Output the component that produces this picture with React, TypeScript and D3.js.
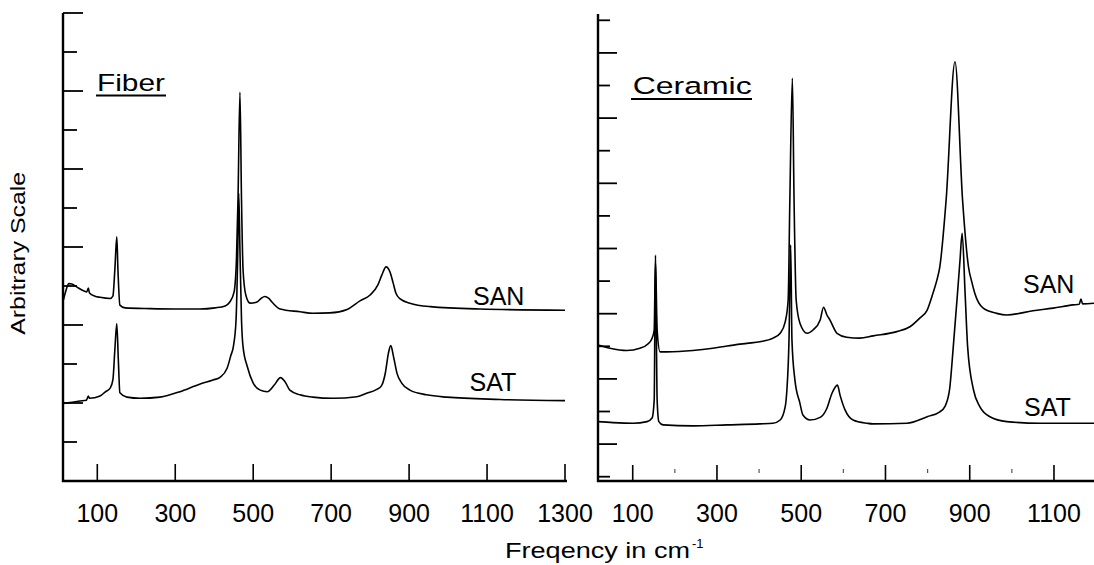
import React from 'react';
import * as d3 from 'd3';

// ---------- data ----------
const fiberTicks = [100, 300, 500, 700, 900, 1100, 1300];
const ceramicTicks = [100, 300, 500, 700, 900, 1100];
const ceramicMinorTicks = [200, 400, 600, 800, 1000];
const fiberYTicks = d3.range(0, 13);
const ceramicYTicks = d3.range(0, 15);

const fiberSAN: [number, number][] = [
  [13, 4.64], [20, 4.9], [27, 5.06], [35, 5.05], [48, 4.97], [66, 4.87], [73, 4.85], [77, 4.95], [80, 4.82],
  [94, 4.74], [107, 4.71], [133, 4.68], [140, 4.74], [145, 5.41], [150, 6.26], [153, 5.41], [158, 4.51],
  [171, 4.44], [235, 4.42], [300, 4.41], [363, 4.41], [402, 4.44], [428, 4.49], [440, 4.59], [451, 4.85],
  [457, 5.67], [461, 7.21], [466, 9.97], [470, 7.21], [474, 5.41], [481, 4.77], [492, 4.56], [510, 4.59],
  [520, 4.68], [530, 4.73], [540, 4.68], [548, 4.59], [569, 4.41], [620, 4.34], [653, 4.3], [696, 4.31],
  [741, 4.4], [774, 4.62], [800, 4.77], [820, 5.03], [830, 5.28], [841, 5.49], [851, 5.36], [859, 5.08],
  [866, 4.82], [877, 4.67], [902, 4.56], [954, 4.47], [1082, 4.41], [1300, 4.38],
];

const fiberSAT: [number, number][] = [
  [12, 1.99], [30, 2.01], [56, 2.05], [72, 2.07], [77, 2.18], [80, 2.12], [107, 2.18], [120, 2.28],
  [133, 2.38], [140, 2.59], [145, 3.36], [150, 4.03], [154, 3.1], [158, 2.26], [176, 2.15], [210, 2.12],
  [261, 2.15], [312, 2.29], [346, 2.42], [364, 2.49], [397, 2.59], [415, 2.66], [433, 2.89], [443, 3.23],
  [449, 3.44], [456, 4.13], [460, 5.67], [463, 7.38], [466, 5.92], [470, 4.13], [474, 3.44], [485, 2.93],
  [500, 2.51], [518, 2.33], [536, 2.29], [554, 2.46], [570, 2.65], [582, 2.54], [594, 2.33], [620, 2.21],
  [653, 2.15], [705, 2.12], [766, 2.16], [791, 2.25], [817, 2.35], [829, 2.44], [839, 2.77], [847, 3.28],
  [853, 3.47], [860, 3.19], [869, 2.76], [881, 2.51], [902, 2.33], [945, 2.21], [997, 2.15], [1133, 2.09],
  [1300, 2.06],
];

const ceramicSAN: [number, number][] = [
  [17.6, 4.04], [46, 3.94], [86, 3.87], [117, 3.94], [136, 4.07], [146, 4.25], [151, 4.5], [154, 6.65],
  [158, 4.5], [165, 3.83], [181, 3.83], [243, 3.87], [290, 3.94], [324, 4.01], [371, 4.09], [402, 4.14],
  [433, 4.25], [450, 4.4], [462, 4.75], [469, 5.42], [473, 8.48], [479, 12.22], [483, 8.48], [488, 5.42],
  [497, 4.71], [514, 4.4], [528, 4.5], [545, 4.81], [553, 5.2], [561, 4.96], [568, 4.81], [585, 4.4],
  [608, 4.28], [639, 4.25], [671, 4.32], [727, 4.45], [758, 4.6], [782, 4.87], [799, 5.11], [813, 5.64],
  [822, 6.03], [829, 6.44], [844, 8.49], [865, 12.73], [883, 8.49], [897, 6.44], [905, 5.97], [912, 5.63],
  [932, 5.17], [964, 5.01], [988, 4.96], [1050, 5.09], [1098, 5.17], [1145, 5.27], [1160, 5.29],
  [1164, 5.45], [1168, 5.3], [1195, 5.32],
];

const ceramicSAT: [number, number][] = [
  [17.6, 1.69], [53, 1.66], [101, 1.64], [134, 1.69], [146, 1.8], [151, 2.35], [154, 6.8], [158, 2.35],
  [162, 1.69], [172, 1.59], [243, 1.56], [324, 1.59], [402, 1.62], [433, 1.64], [450, 1.74], [462, 2.15],
  [466, 2.66], [471, 4.19], [475, 7.11], [478, 4.19], [485, 2.97], [497, 2.25], [504, 1.89], [521, 1.74],
  [545, 1.82], [561, 2.1], [573, 2.56], [586, 2.81], [592, 2.51], [604, 2.05], [623, 1.74], [656, 1.64],
  [670, 1.62], [751, 1.64], [799, 1.84], [829, 1.99], [841, 2.15], [852, 2.66], [861, 3.99], [871, 5.63],
  [877, 6.65], [882, 7.47], [889, 5.63], [895, 3.99], [909, 2.66], [924, 2.15], [948, 1.84], [988, 1.69],
  [1067, 1.64], [1195, 1.64],
];

// ---------- layout ----------
const W = 1094;
const H = 565;
const FONT = '"Liberation Sans", Arial, Helvetica, sans-serif';

const xL = d3.scaleLinear().domain([12, 1300]).range([63, 565]);
const yL = d3.scaleLinear().domain([0, 12]).range([481, 13]);
const xR = d3.scaleLinear().domain([17.6, 1195]).range([598, 1094]);
const yR = d3.scaleLinear().domain([0, 14]).range([476.7, 20.3]);

function lineFor(x: d3.ScaleLinear<number, number>, y: d3.ScaleLinear<number, number>) {
  return d3
    .line<[number, number]>()
    .x((d) => x(d[0]))
    .y((d) => y(d[1]))
    .curve(d3.curveMonotoneX);
}

export default function App() {
  const lineL = lineFor(xL, yL);
  const lineR = lineFor(xR, yR);
  const axisY = 481;
  return (
    <svg
      width={W}
      height={H}
      style={{ position: 'absolute', left: 0, top: 0, background: '#fff' }}
      fontFamily={FONT}
    >
      <rect x={0} y={0} width={W} height={H} fill="#fff" />

      {/* ---- Left panel (Fiber) axes ---- */}
      <line x1={63} x2={63} y1={13} y2={axisY + 1} stroke="#000" strokeWidth={2.4} />
      <line x1={62} x2={567} y1={axisY} y2={axisY} stroke="#000" strokeWidth={2.4} />
      {fiberYTicks.map((v) => (
        <line key={'ly' + v} x1={63} x2={63 + (v % 2 === 0 ? 20 : 14)} y1={yL(v)} y2={yL(v)} stroke="#000" strokeWidth={1.8} />
      ))}
      {fiberTicks.map((t) => (
        <g key={'lx' + t}>
          <line x1={xL(t)} x2={xL(t)} y1={axisY} y2={axisY - 17} stroke="#000" strokeWidth={1.6} />
          <text x={xL(t)} y={521.5} fontSize={25} textAnchor="middle" fill="#000">
            {t}
          </text>
        </g>
      ))}

      {/* ---- Right panel (Ceramic) axes ---- */}
      <line x1={598} x2={598} y1={14} y2={axisY + 1} stroke="#000" strokeWidth={2.4} />
      <line x1={597} x2={1094} y1={axisY} y2={axisY} stroke="#000" strokeWidth={2.4} />
      {ceramicYTicks.map((v) => (
        <line key={'ry' + v} x1={598} x2={598 + (v % 2 === 1 ? 19 : 12)} y1={yR(v)} y2={yR(v)} stroke="#000" strokeWidth={1.8} />
      ))}
      {ceramicTicks.map((t) => (
        <g key={'rx' + t}>
          <line x1={xR(t)} x2={xR(t)} y1={axisY} y2={axisY - 16} stroke="#000" strokeWidth={1.6} />
          <text x={xR(t)} y={521.5} fontSize={25} textAnchor="middle" fill="#000">
            {t}
          </text>
        </g>
      ))}
      {ceramicMinorTicks.map((t) => (
        <line key={'rm' + t} x1={xR(t)} x2={xR(t)} y1={469} y2={473} stroke="#555" strokeWidth={1.2} />
      ))}

      {/* ---- Curves ---- */}
      <path d={lineL(fiberSAN) || ''} fill="none" stroke="#000" strokeWidth={1.6} strokeLinejoin="round" />
      <path d={lineL(fiberSAT) || ''} fill="none" stroke="#000" strokeWidth={1.6} strokeLinejoin="round" />
      <path d={lineR(ceramicSAN) || ''} fill="none" stroke="#000" strokeWidth={1.6} strokeLinejoin="round" />
      <path d={lineR(ceramicSAT) || ''} fill="none" stroke="#000" strokeWidth={1.6} strokeLinejoin="round" />

      {/* ---- Titles ---- */}
      <text x={97} y={91} fontSize={24} textLength={68} lengthAdjust="spacingAndGlyphs" fill="#000">
        Fiber
      </text>
      <line x1={96} x2={166} y1={95.5} y2={95.5} stroke="#000" strokeWidth={2} />
      <text x={632.7} y={94.3} fontSize={24.5} textLength={119} lengthAdjust="spacingAndGlyphs" fill="#000">
        Ceramic
      </text>
      <line x1={631} x2={752} y1={99} y2={99} stroke="#000" strokeWidth={2} />

      {/* ---- Series labels ---- */}
      <text x={473} y={305} fontSize={25} fill="#000">SAN</text>
      <text x={469.5} y={391} fontSize={25} fill="#000">SAT</text>
      <text x={1023} y={293} fontSize={25} fill="#000">SAN</text>
      <text x={1024} y={416} fontSize={25} fill="#000">SAT</text>

      {/* ---- Axis titles ---- */}
      <text
        transform="translate(24.5,253.3) rotate(-90)"
        fontSize={21}
        textAnchor="middle"
        textLength={163}
        lengthAdjust="spacingAndGlyphs"
        fill="#000"
      >
        Arbitrary Scale
      </text>
      <text x={505} y={558} fontSize={22} textLength={185} lengthAdjust="spacingAndGlyphs" fill="#000">
        Freqency in cm
      </text>
      <text x={692} y={548} fontSize={13} fill="#000">-1</text>
    </svg>
  );
}
